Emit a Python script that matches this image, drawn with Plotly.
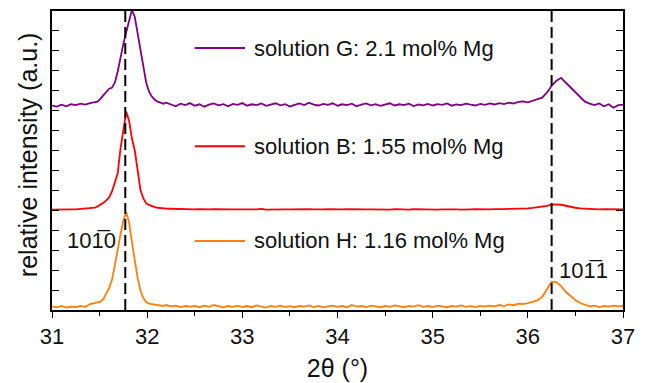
import plotly.graph_objects as go

# ---- data ----
two_theta = [
    31.00, 31.05, 31.10, 31.15, 31.20, 31.25, 31.30, 31.35, 31.40, 31.45,
    31.48, 31.51, 31.54, 31.57, 31.60, 31.63, 31.66, 31.69, 31.72, 31.75,
    31.78, 31.81, 31.84, 31.87, 31.90, 31.93, 31.96, 31.99, 32.02, 32.05,
    32.08, 32.11, 32.14, 32.17, 32.20, 32.25, 32.30, 32.35, 32.40, 32.45,
    32.50, 32.55, 32.60, 32.65, 32.70, 32.75, 32.80, 32.85, 32.90, 32.95,
    33.00, 33.05, 33.10, 33.15, 33.20, 33.25, 33.30, 33.35, 33.40, 33.45,
    33.50, 33.55, 33.60, 33.65, 33.70, 33.75, 33.80, 33.85, 33.90, 33.95,
    34.00, 34.05, 34.10, 34.15, 34.20, 34.25, 34.30, 34.35, 34.40, 34.45,
    34.50, 34.55, 34.60, 34.65, 34.70, 34.75, 34.80, 34.85, 34.90, 34.95,
    35.00, 35.05, 35.10, 35.15, 35.20, 35.25, 35.30, 35.35, 35.40, 35.45,
    35.50, 35.55, 35.60, 35.65, 35.70, 35.75, 35.80, 35.85, 35.90, 35.95,
    36.00, 36.05, 36.10, 36.15, 36.20, 36.25, 36.30, 36.35, 36.40, 36.45,
    36.50, 36.55, 36.60, 36.65, 36.70, 36.75, 36.80, 36.85, 36.90, 36.95,
    37.00,
]

intensity_G = [
    10.25, 10.20, 10.30, 10.22, 10.32, 10.28, 10.35, 10.30, 10.38, 10.42,
    10.45, 10.60, 10.75, 10.90, 11.10, 11.15, 11.40, 11.95, 12.70, 13.35,
    13.95, 14.50, 15.05, 14.70, 13.90, 12.90, 12.10, 11.40, 10.95, 10.70,
    10.55, 10.45, 10.40, 10.35, 10.40, 10.30, 10.22, 10.35, 10.28, 10.38,
    10.25, 10.32, 10.20, 10.30, 10.36, 10.27, 10.33, 10.22, 10.34, 10.29,
    10.38, 10.25, 10.32, 10.28, 10.36, 10.24, 10.30, 10.37, 10.27, 10.33,
    10.21, 10.30, 10.36, 10.28, 10.40, 10.30, 10.26, 10.34, 10.29, 10.37,
    10.25, 10.32, 10.28, 10.35, 10.22, 10.30, 10.36, 10.27, 10.33, 10.24,
    10.31, 10.37, 10.26, 10.32, 10.28, 10.35, 10.23, 10.31, 10.27, 10.34,
    10.26, 10.33, 10.29, 10.36, 10.25, 10.31, 10.28, 10.35, 10.30, 10.26,
    10.34, 10.29, 10.36, 10.31, 10.38, 10.33, 10.40, 10.36, 10.44, 10.47,
    10.42, 10.50, 10.55, 10.65, 10.90, 11.25, 11.50, 11.65, 11.40, 11.15,
    10.95, 10.70, 10.45, 10.35, 10.28, 10.36, 10.22, 10.32, 10.15, 10.28,
    10.30,
]

intensity_B = [
    5.04, 5.05, 5.04, 5.06, 5.05, 5.05, 5.07, 5.08, 5.10, 5.14,
    5.20, 5.28, 5.38, 5.50, 5.65, 5.95, 6.40, 6.85, 8.10, 9.10,
    9.95, 9.50, 8.60, 8.00, 6.90, 6.00, 5.60, 5.35, 5.27, 5.20,
    5.16, 5.13, 5.11, 5.10, 5.09, 5.08, 5.07, 5.07, 5.06, 5.06,
    5.05, 5.06, 5.04, 5.05, 5.06, 5.05, 5.04, 5.06, 5.05, 5.05,
    5.06, 5.04, 5.05, 5.05, 5.07, 5.04, 5.05, 5.06, 5.04, 5.05,
    5.05, 5.06, 5.04, 5.05, 5.06, 5.05, 5.04, 5.05, 5.06, 5.05,
    5.04, 5.05, 5.06, 5.05, 5.04, 5.06, 5.05, 5.05, 5.04, 5.06,
    5.05, 5.04, 5.06, 5.05, 5.05, 5.04, 5.06, 5.05, 5.05, 5.06,
    5.05, 5.04, 5.05, 5.06, 5.05, 5.05, 5.04, 5.06, 5.05, 5.06,
    5.05, 5.06, 5.05, 5.06, 5.05, 5.06, 5.07, 5.07, 5.08, 5.09,
    5.10, 5.12, 5.15, 5.18, 5.22, 5.28, 5.30, 5.28, 5.22, 5.17,
    5.13, 5.10, 5.08, 5.07, 5.06, 5.05, 5.06, 5.05, 5.05, 5.06,
    5.05,
]

intensity_H = [
    0.18, 0.13, 0.20, 0.12, 0.17, 0.15, 0.20, 0.16, 0.30, 0.35,
    0.37, 0.42, 0.55, 0.85, 1.10, 1.50, 2.20, 3.00, 3.80, 4.50,
    4.90, 4.40, 3.40, 2.40, 1.60, 0.95, 0.60, 0.40, 0.32, 0.30,
    0.28, 0.25, 0.22, 0.20, 0.25, 0.18, 0.22, 0.15, 0.20, 0.17,
    0.20, 0.14, 0.22, 0.16, 0.25, 0.18, 0.13, 0.20, 0.16, 0.22,
    0.15, 0.20, 0.14, 0.23, 0.17, 0.12, 0.20, 0.16, 0.22, 0.15,
    0.19, 0.14, 0.21, 0.17, 0.23, 0.15, 0.20, 0.13, 0.18, 0.22,
    0.16, 0.20, 0.14, 0.25, 0.17, 0.20, 0.15, 0.22, 0.18, 0.14,
    0.20, 0.16, 0.23, 0.18, 0.14, 0.21, 0.17, 0.24, 0.16, 0.20,
    0.15, 0.22, 0.18, 0.14, 0.20, 0.17, 0.23, 0.16, 0.19, 0.15,
    0.21, 0.17, 0.22, 0.18, 0.25, 0.20, 0.28, 0.24, 0.32, 0.30,
    0.35, 0.42, 0.48, 0.65, 1.05, 1.42, 1.40, 1.20, 0.90, 0.68,
    0.50, 0.35, 0.25, 0.18, 0.22, 0.15, 0.20, 0.17, 0.22, 0.18,
    0.20,
]

series_names = ["solution G: 2.1 mol% Mg", "solution B: 1.55 mol% Mg", "solution H: 1.16 mol% Mg"]
series_colors = ["#800080", "#ff0000", "#ff7f0e"]
series_values = [intensity_G, intensity_B, intensity_H]

reflection_positions = [31.77, 36.25]
reflection_labels = ["101\u03050", "101\u03051"]
reflection_label_x = [31.42, 36.58]
reflection_label_y = [3.5, 2.0]

x_ticks = [31, 32, 33, 34, 35, 36, 37]

FONT = "Arial, Liberation Sans, sans-serif"

fig = go.Figure()
for name, color, vals in zip(series_names, series_colors, series_values):
    fig.add_trace(go.Scatter(x=two_theta, y=vals, mode="lines", name=name,
                             line=dict(color=color, width=1.8), showlegend=False))

# dashed reference lines
for xr in reflection_positions:
    fig.add_shape(type="line", xref="x", yref="y domain", x0=xr, x1=xr, y0=0, y1=1,
                  line=dict(color="black", width=2, dash="11px,5px"))

# legend-like labels
legend_y = [0.876, 0.548, 0.231]
for name, color, ly in zip(series_names, series_colors, legend_y):
    fig.add_shape(type="line", xref="x domain", yref="y domain", x0=0.250, x1=0.338,
                  y0=ly, y1=ly, line=dict(color=color, width=2))
    fig.add_annotation(xref="x domain", yref="y domain", x=0.350, y=ly, text=name,
                       showarrow=False, xanchor="left", yanchor="middle",
                       font=dict(family=FONT, size=22, color="#111"))

for lab, lx, ly in zip(reflection_labels, reflection_label_x, reflection_label_y):
    fig.add_annotation(x=lx, y=ly, text=lab, showarrow=False, xanchor="center",
                       yanchor="middle", font=dict(family=FONT, size=22, color="#111"))

# y-axis title
fig.add_annotation(xref="paper", yref="paper", x=-0.042, y=0.518,
                   text="relative intensity (a.u.)", textangle=-90, showarrow=False,
                   xanchor="center", yanchor="middle",
                   font=dict(family=FONT, size=25, color="#111"))

fig.update_layout(
    width=646, height=383,
    margin=dict(l=52, r=23, t=11, b=73),
    paper_bgcolor="white", plot_bgcolor="white",
    font=dict(family=FONT, size=22, color="#111"),
    xaxis=dict(range=[31, 37], tickvals=x_ticks, ticks="outside", ticklen=6,
               tickwidth=1.3, tickcolor="black", showline=True, linecolor="black",
               linewidth=1.5, mirror=True, showgrid=False, zeroline=False,
               minor=dict(dtick=0.5, tick0=31, ticks="outside", ticklen=4,
                          tickwidth=1.3, tickcolor="black", showgrid=False),
               tickfont=dict(family=FONT, size=22, color="#111"),
               title=dict(text="2\u03b8 (\u00b0)", standoff=11,
                          font=dict(family=FONT, size=25, color="#111")),
               automargin=False),
    xaxis2=dict(range=[31, 37], overlaying="x", side="top", dtick=0.5, tick0=31,
                ticks="inside", ticklen=4, tickwidth=1.3, tickcolor="black",
                showticklabels=False, showgrid=False, zeroline=False, showline=False,
                automargin=False),
    yaxis=dict(range=[0, 15], dtick=1, tick0=0, ticks="inside", ticklen=7,
               tickwidth=1.3, tickcolor="black", showticklabels=False,
               showline=True, linecolor="black", linewidth=1.5, mirror="ticks",
               showgrid=False, zeroline=False, automargin=False),
)

fig.write_html("out.html")
